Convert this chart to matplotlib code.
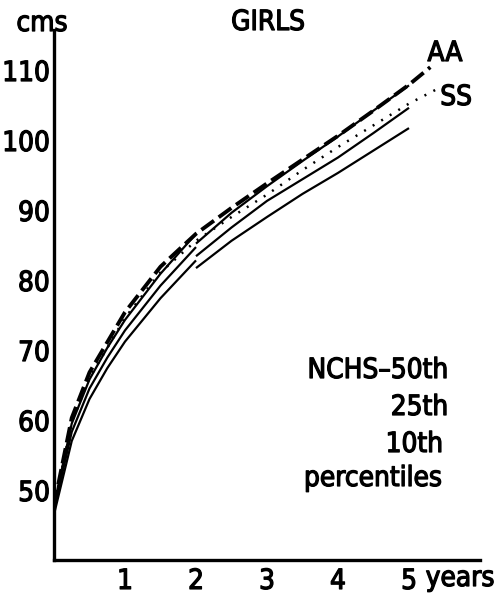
import matplotlib.pyplot as plt
import matplotlib.patheffects as pe

# NCHS reference curves, girls: recumbent length 0-2 yr, stature 2-5 yr (cm)
age_len = [0, 0.25, 0.5, 0.75, 1.0, 1.5, 2.0]
p50_len = [47.8, 59.5, 65.8, 70.3, 74.3, 80.9, 86.6]
p25_len = [47.2, 58.3, 64.5, 68.9, 72.8, 79.2, 84.7]
p10_len = [46.5, 57.0, 63.0, 67.4, 71.2, 77.4, 82.8]

age_ht = [2.0, 2.5, 3.0, 3.5, 4.0, 4.5, 5.0]
p50_ht = [85.2, 89.6, 93.4, 97.0, 100.5, 104.2, 107.8]
p25_ht = [83.4, 87.5, 91.3, 94.4, 97.5, 101.0, 104.6]
p10_ht = [81.7, 85.6, 89.0, 92.3, 95.3, 98.5, 101.7]

# study groups
age_aa = [0, 0.25, 0.5, 1.0, 1.5, 2.0, 2.5, 3.0, 3.5, 4.0, 4.5, 5.0, 5.3]
ht_aa = [47.8, 60.3, 66.8, 75.4, 81.9, 86.6, 90.3, 93.8, 97.2, 100.6, 104.2, 107.9, 110.4]
age_ss = [0, 0.25, 0.5, 1.0, 1.5, 2.0, 2.5, 3.0, 3.5, 4.0, 4.5, 5.0, 5.4]
ht_ss = [47.6, 59.7, 66.0, 74.6, 81.1, 85.6, 89.0, 92.2, 95.7, 99.0, 102.1, 105.2, 107.3]

yticks = [50, 60, 70, 80, 90, 100, 110]
xticks = [1, 2, 3, 4, 5]

plt.rcParams['font.family'] = ['DejaVu Sans']
plt.rcParams['font.stretch'] = 'condensed'

# slightly heavier strokes on all lettering
heavy = [pe.withStroke(linewidth=0.9, foreground='black')]

fig = plt.figure(figsize=(4.95, 6.0), dpi=100)
W, H = 495, 600
ax = fig.add_axes([54 / W, 40 / H, (480 - 54) / W, (560 - 30) / H])

for a, v in [(age_len, p50_len), (age_len, p25_len), (age_len, p10_len),
             (age_ht, p50_ht), (age_ht, p25_ht), (age_ht, p10_ht)]:
    ax.plot(a, v, color='black', lw=1.6, solid_capstyle='butt')

ax.plot(age_aa, ht_aa, color='black', lw=2.8, dashes=(4, 1.5))
ax.plot(age_ss, ht_ss, color='black', lw=1.8, dashes=(0.8, 3.2))

ax.set_xlim(0, 6.0)
ax.set_ylim(40, 40 + 530 / 7)
ax.set_xticks(xticks)
ax.set_xticklabels([str(t) for t in xticks])
ax.set_yticks(yticks)
ax.set_yticklabels([str(t) for t in yticks])
ax.tick_params(axis='both', length=0, labelsize=20)
ax.tick_params(axis='y', pad=3)
ax.tick_params(axis='x', pad=5)
for t in ax.get_xticklabels() + ax.get_yticklabels():
    t.set_path_effects(heavy)
for s in ['top', 'right']:
    ax.spines[s].set_visible(False)
for s in ['left', 'bottom']:
    ax.spines[s].set_linewidth(2.4)

def label(x, y, s, ha='center', size=20):
    fig.text(x / W, 1 - y / H, s, ha=ha, va='center', fontsize=size,
             fontstretch='condensed', path_effects=heavy)

label(42, 23, 'cms')
label(268, 22, 'GIRLS')
label(445, 53, 'AA')
label(456, 97, 'SS')
label(448, 370, 'NCHS\u201350th', ha='right')
label(448, 407, '25th', ha='right')
label(443, 444, '10th', ha='right')
label(442, 478, 'percentiles', ha='right')
label(460, 578, 'years')

fig.savefig('out.png', dpi=100)
